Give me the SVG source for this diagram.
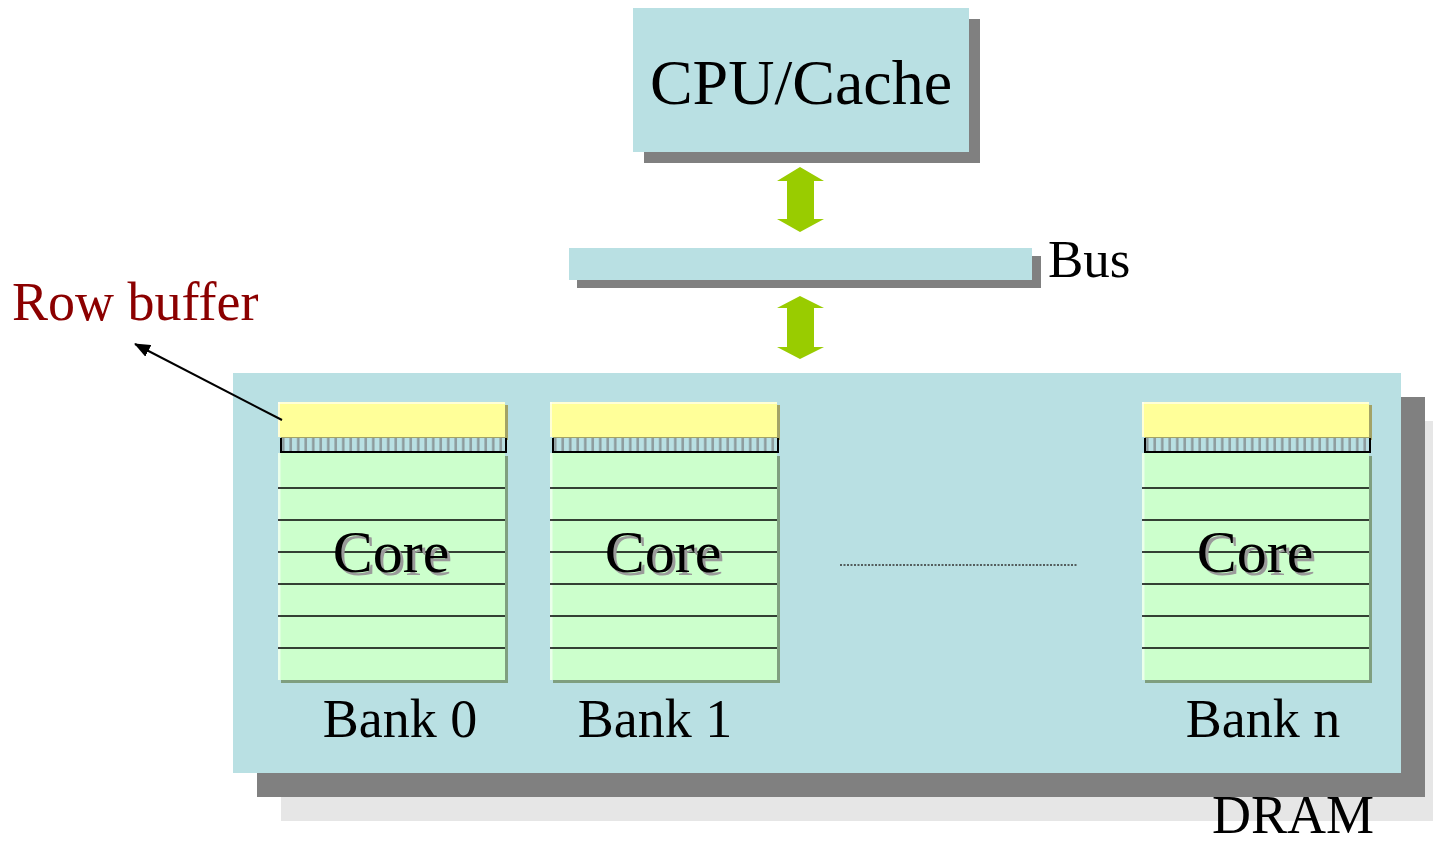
<svg xmlns="http://www.w3.org/2000/svg" width="1433" height="841" viewBox="0 0 1433 841">
  <defs>
    <style>
      text { font-family: "Liberation Serif", "Times New Roman", serif; fill: #000; }
      .lbl { font-size: 54px; }
      .core { font-size: 60px; text-anchor: middle; }
      .coresh { font-size: 60px; text-anchor: middle; fill: #9a9a9a; }
      .panel { fill: #B9E0E3; }
      .shadow { fill: #808080; }
      .buf { fill: #FFFF99; }
      .bufsh { fill: #A3A366; }
      .cell { fill: #CCFFCC; }
      .cellsh { fill: #7F9F7F; }
      .hl { fill: #FFFFFF; opacity: 0.6; }
      .row { stroke: #000; stroke-width: 1.6; }
      .arrow { fill: #99CC00; }
    </style>
    <pattern id="sense" x="0" y="0" width="7.5" height="14" patternUnits="userSpaceOnUse">
      <rect width="7.5" height="14" fill="#B9E0E3"/>
      <rect x="4" width="2.5" height="14" fill="#8C9A9C"/>
    </pattern>
    <marker id="tip" markerWidth="16" markerHeight="13" refX="15" refY="6.5" orient="auto" markerUnits="userSpaceOnUse">
      <path d="M0,0 L16,6.5 L0,13 Z" fill="#000"/>
    </marker>
    <!-- one memory bank: row buffer, sense strip, cell array -->
    <g id="bank">
      <rect x="3" y="3" width="227" height="35" class="bufsh"/>
      <rect x="0" y="0" width="227" height="35" class="buf"/>
      <rect x="0" y="0" width="227" height="2" class="hl"/>
      <rect x="0" y="0" width="2" height="35" class="hl"/>
      <rect x="3" y="36" width="225" height="14" fill="url(#sense)"/>
      <path d="M3,36 V50 H228 V36" fill="none" stroke="#000" stroke-width="2"/>
      <rect x="3" y="54" width="227" height="227" class="cellsh"/>
      <rect x="0" y="51" width="227" height="227" class="cell"/>
      <rect x="0" y="51" width="2.5" height="227" class="hl"/>
      <g class="row">
        <line x1="0" y1="86" x2="227" y2="86"/>
        <line x1="0" y1="118" x2="227" y2="118"/>
        <line x1="0" y1="150" x2="227" y2="150"/>
        <line x1="0" y1="182" x2="227" y2="182"/>
        <line x1="0" y1="214" x2="227" y2="214"/>
        <line x1="0" y1="246" x2="227" y2="246"/>
      </g>
      <text x="116" y="173" class="coresh">Core</text>
      <text x="113" y="170" class="core">Core</text>
    </g>
  </defs>

  <!-- CPU / cache -->
  <g id="cpu">
    <rect x="644" y="19" width="336" height="144" class="shadow"/>
    <rect x="633" y="8" width="336" height="144" class="panel"/>
    <text x="801" y="104" style="font-size:64px" text-anchor="middle">CPU/Cache</text>
  </g>

  <!-- system bus -->
  <g id="bus">
    <rect x="577" y="256" width="464" height="32" class="shadow"/>
    <rect x="569" y="248" width="463" height="32" class="panel"/>
    <text x="1048" y="277" class="lbl" style="font-size:53px">Bus</text>
  </g>

  <!-- DRAM chip -->
  <g id="dram">
    <rect x="281" y="421" width="1160" height="400" fill="#E6E6E6"/>
    <rect x="257" y="397" width="1168" height="400" class="shadow"/>
    <rect x="233" y="373" width="1168" height="400" class="panel"/>
    <text x="1212" y="833" class="lbl">DRAM</text>
  </g>

  <g id="bank0">
    <use href="#bank" x="278" y="402"/>
    <text x="400" y="737" class="lbl" text-anchor="middle">Bank 0</text>
  </g>
  <g id="bank1">
    <use href="#bank" x="550" y="402"/>
    <text x="655" y="737" class="lbl" text-anchor="middle">Bank 1</text>
  </g>
  <g id="bankn">
    <use href="#bank" x="1142" y="402"/>
    <text x="1263" y="737" class="lbl" text-anchor="middle">Bank n</text>
  </g>

  <g id="rowbuffer-label">
    <text x="12" y="320" class="lbl" style="fill:#8B0000">Row buffer</text>
  </g>

  <!-- connectors -->
  <g id="connectors">
    <path class="arrow" d="M800,167 L824,181 L814,181 L814,219 L824,219 L800,232 L777,219 L787,219 L787,181 L777,181 Z"/>
    <path class="arrow" d="M800,296 L824,308 L814,308 L814,347 L824,347 L800,359 L777,347 L787,347 L787,308 L777,308 Z"/>
    <line x1="282" y1="420" x2="135" y2="344" stroke="#000" stroke-width="2" marker-end="url(#tip)"/>
    <line x1="840" y1="565" x2="1078" y2="565" stroke="#333" stroke-width="1.5" stroke-dasharray="2 1.5"/>
  </g>
</svg>
